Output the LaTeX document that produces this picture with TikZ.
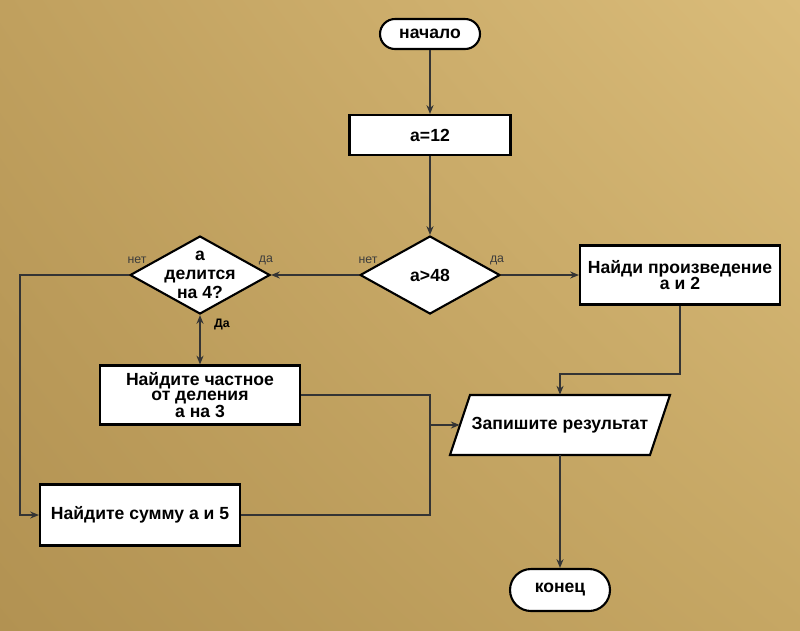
\documentclass[tikz,border=0pt]{standalone}
\usepackage{fontspec}
\setmainfont{Liberation Sans}
\usetikzlibrary{arrows.meta,shapes.geometric,shadings,calc}

\definecolor{paperUL}{RGB}{192,160,94}
\definecolor{paperUR}{RGB}{218,188,122}
\definecolor{paperLL}{RGB}{178,146,82}
\definecolor{paperLR}{RGB}{198,167,100}
\definecolor{wire}{RGB}{52,52,52}
\definecolor{tag}{RGB}{60,60,60}

\tikzset{
  base/.style={draw=black, line width=1.2pt, fill=white, inner sep=0pt,
    font=\fontsize{10}{10.5}\selectfont\bfseries, align=center},
  terminal/.style={base, rectangle, rounded corners=0.3cm},
  process/.style={base, rectangle},
  decision/.style={base, diamond, minimum width=2.8cm, minimum height=1.56cm},
  iotext/.style={inner sep=0pt, font=\fontsize{10}{10.5}\selectfont\bfseries, align=center},
  iofill/.style={draw=black, line width=1.2pt, fill=white, line join=miter},
  wireline/.style={draw=wire, line width=1pt},
  tip/.tip={Stealth[length=5pt,width=4pt]},
  arr/.style={wireline, -tip},
  biarr/.style={wireline, tip-tip},
  branch/.style={font=\fontsize{7}{8}\selectfont, text=tag, inner sep=0pt},
  branchbold/.style={font=\fontsize{7}{8}\selectfont\bfseries, text=black, inner sep=0pt}
}

\begin{document}
\begin{tikzpicture}[x=0.02cm, y=-0.02cm]
  % paper background
  \useasboundingbox (0,0) rectangle (800,630);
  \shade[upper left=paperUL, upper right=paperUR, lower left=paperLL, lower right=paperLR]
    (0,0) rectangle (800,630);

  % blocks
  \node[terminal, minimum width=2cm, minimum height=0.6cm] (start) at (430,34) {начало};
  \node[process, minimum width=3.22cm, minimum height=0.8cm] (init) at (430,135) {а=12};
  \node[decision] (cmp) at (430,275) {а>48};
  \node[process, minimum width=4cm, minimum height=1.18cm] (prod) at (680,275)
    {Найди произведение\\[-1.5pt]а и 2};
  \node[decision, label={[align=center, font=\fontsize{10}{11}\selectfont\bfseries]center:а\\делится\\на 4?}]
    (div) at (200,275) {};
  \node[process, minimum width=4cm, minimum height=1.18cm,
    font=\fontsize{10}{8.6}\selectfont\bfseries] (quot) at (200,395)
    {Найдите частное\\от деления\\а на 3};
  \node[process, minimum width=4cm, minimum height=1.22cm] (sum) at (140,515)
    {Найдите сумму а и 5};

  % output block: parallelogram slanted to the right
  \coordinate (outc) at (560,425);
  \filldraw[iofill] ($(outc)+(-90,-30)$) -- ($(outc)+(110,-30)$)
    -- ($(outc)+(90,30)$) -- ($(outc)+(-110,30)$) -- cycle;
  \node[iotext, minimum width=4cm, minimum height=1.2cm] (out) at (outc) {Запишите результат};

  \node[terminal, minimum width=2cm, minimum height=0.84cm, rounded corners=0.42cm]
    (stop) at (560,590) {конец};

  % branch labels
  \node[branch] (cmpno) at (368,260) {нет};
  \node[branch] (cmpyes) at (497,260) {да};
  \node[branch] (divno) at (137,260) {нет};
  \node[branch] (divyes) at (266,260) {да};
  \node[branchbold] (divdown) at (222,324) {Да};

  % helper points for the bends
  \coordinate (leftrail) at (20,275);
  \coordinate (merge) at (430,425);
  \coordinate (prodbend) at (560,374);

  % connectors
  \draw[arr] (start) -- (init);
  \draw[arr] (init) -- (cmp);
  \draw[arr] (cmp.east) -- (prod.west);
  \draw[arr] (cmp.west) -- (div.east);
  \draw[biarr] (div.south) -- (quot.north);
  \draw[arr] (div.west) -- (leftrail) |- (sum.west);
  \draw[wireline] (quot.east) -| (merge) |- (sum.east);
  \draw[arr] (merge) -- (out.west);
  \draw[arr] (prod.south) |- (prodbend) -- (out.north);
  \draw[arr] (out.south) -- (stop.north);
\end{tikzpicture}
\end{document}
